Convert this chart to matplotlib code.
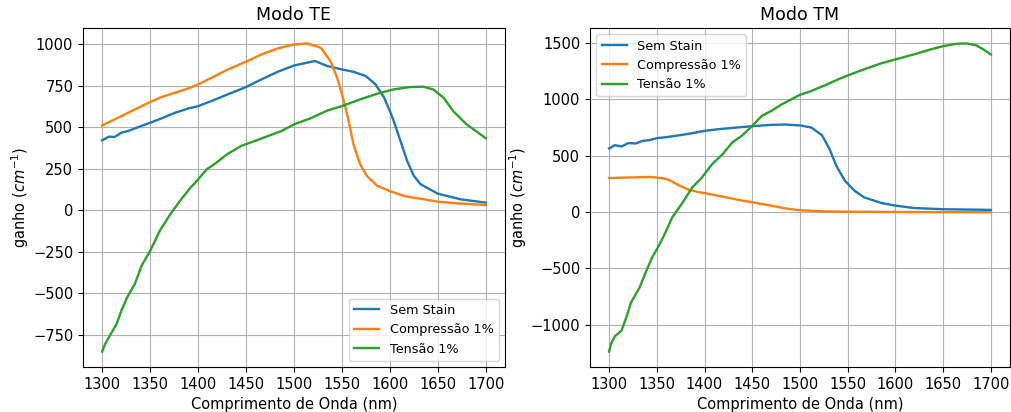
# Ganho material em funcao do comprimento de onda, modos TE e TM,
# para o caso sem strain, com compressao de 1% e com tensao de 1%.
import matplotlib.pyplot as plt

# MODO TE ------------------------------------------------------------------------------------------
wl_te_sem = [1300, 1307, 1313, 1320, 1327, 1338, 1350, 1362, 1376, 1390, 1400, 1414, 1431, 1450,
             1466, 1483, 1500, 1522, 1535, 1550, 1562, 1575, 1585, 1594, 1600, 1604, 1611, 1618,
             1625, 1632, 1650, 1674, 1700]
te_sem = [422, 444, 442, 468, 478, 502, 528, 554, 588, 614, 628, 659, 699, 743,
          789, 835, 873, 900, 869, 849, 835, 809, 759, 679, 598, 538, 418, 297,
          207, 157, 100, 66, 46]

wl_te_comp = [1300, 1313, 1327, 1341, 1350, 1362, 1376, 1390, 1400, 1414, 1431, 1450, 1466, 1483,
              1500, 1514, 1528, 1538, 1545, 1552, 1557, 1562, 1569, 1576, 1587, 1600, 1615, 1650,
              1674, 1700]
te_comp = [512, 548, 588, 628, 653, 683, 709, 735, 759, 799, 849, 896, 940, 976,
           1000, 1006, 980, 900, 799, 659, 538, 398, 277, 207, 147, 116, 86, 52,
           40, 32]

wl_te_tens = [1300, 1303, 1308, 1315, 1320, 1326, 1334, 1341, 1350, 1360, 1371, 1381, 1392, 1400,
              1409, 1419, 1430, 1445, 1459, 1473, 1487, 1500, 1517, 1535, 1550, 1569, 1587, 1604,
              1621, 1635, 1645, 1656, 1666, 1680, 1700]
te_tens = [-852, -806, -756, -686, -605, -525, -445, -335, -245, -124, -24, 56, 136, 186,
           247, 287, 337, 388, 418, 448, 478, 518, 554, 602, 628, 669, 703, 729,
           743, 745, 729, 679, 598, 518, 434]

# MODO TM ------------------------------------------------------------------------------------------
wl_tm_sem = [1300, 1306, 1313, 1320, 1328, 1335, 1342, 1350, 1360, 1374, 1387, 1400, 1415, 1429,
             1450, 1470, 1484, 1500, 1512, 1523, 1531, 1538, 1547, 1557, 1567, 1585, 1600, 1619,
             1650, 1700]
tm_sem = [563, 593, 581, 611, 608, 631, 637, 655, 664, 681, 699, 720, 735, 746,
          761, 773, 776, 768, 749, 681, 558, 410, 277, 189, 130, 80, 56, 35,
          24, 18]

wl_tm_comp = [1300, 1325, 1342, 1356, 1363, 1374, 1384, 1395, 1405, 1419, 1436, 1450, 1470, 1484,
              1500, 1525, 1550, 1600, 1650, 1700]
tm_comp = [301, 307, 310, 301, 283, 233, 195, 174, 159, 136, 106, 86, 56, 32,
           15, 5, 2, 0, -2, -3]

wl_tm_tens = [1300, 1302, 1306, 1313, 1318, 1323, 1332, 1339, 1345, 1352, 1359, 1366, 1377, 1387,
              1397, 1408, 1419, 1429, 1439, 1450, 1460, 1470, 1481, 1491, 1500, 1512, 1526, 1540,
              1550, 1567, 1585, 1600, 1619, 1637, 1650, 1664, 1675, 1685, 1692, 1700]
tm_tens = [-1240, -1172, -1104, -1054, -936, -803, -670, -523, -405, -301, -183, -50, 83, 216,
           304, 425, 513, 617, 676, 764, 853, 897, 956, 1000, 1040, 1074, 1124, 1177,
           1212, 1266, 1319, 1354, 1398, 1443, 1472, 1493, 1496, 1478, 1443, 1398]

labels = ['Sem Stain', 'Compressão 1%', 'Tensão 1%']
# --------------------------------------------------------------------------------------------------

plt.rcParams.update({'font.size': 10.5, 'lines.linewidth': 1.7})
fig = plt.figure(figsize=(10.11, 4.12), dpi=100)
ax1 = fig.add_axes([0.0821, 0.1092, 0.4174, 0.8228])
ax2 = fig.add_axes([0.5836, 0.1092, 0.4154, 0.8228])

ax1.plot(wl_te_sem, te_sem, label=labels[0])
ax1.plot(wl_te_comp, te_comp, label=labels[1])
ax1.plot(wl_te_tens, te_tens, label=labels[2])
ax1.set_title('Modo TE', fontsize=12.5)
ax1.legend(loc='lower right', fontsize=9.2)

ax2.plot(wl_tm_sem, tm_sem, label=labels[0])
ax2.plot(wl_tm_comp, tm_comp, label=labels[1])
ax2.plot(wl_tm_tens, tm_tens, label=labels[2])
ax2.set_title('Modo TM', fontsize=12.5)
ax2.legend(loc='upper left', fontsize=9.2)

for ax in (ax1, ax2):
    ax.set_xticks([1300, 1350, 1400, 1450, 1500, 1550, 1600, 1650, 1700])
    ax.set_xlabel('Comprimento de Onda (nm)')
    ax.set_ylabel('ganho ($cm^{-1}$)', labelpad=1.5)
    ax.grid(True)

fig.savefig('out.png', dpi=100)
